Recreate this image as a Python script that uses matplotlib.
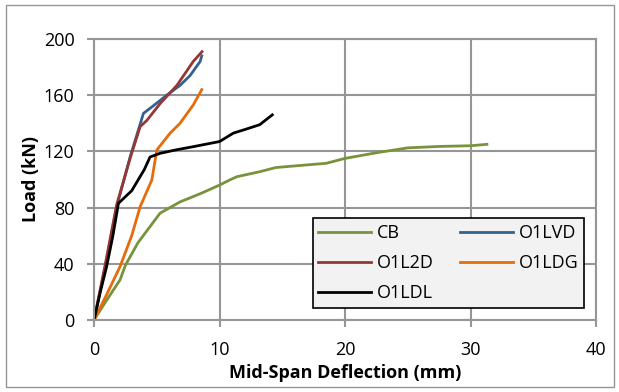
import matplotlib
matplotlib.use("Agg")
import matplotlib.pyplot as plt

plt.rcParams['font.family'] = ['Open Sans', 'DejaVu Sans']

# data (deflection mm, load kN)
cb_x = [0, 1.0, 2.07, 2.5, 3.5, 5.26, 6.85, 8.5, 10.0, 10.8, 11.4, 13.2, 14.5, 16.5, 18.5, 20.0, 22.5, 25.0, 27.5, 30.0, 31.3]
cb_y = [0, 14, 28.5, 39, 55, 76, 84, 90, 96, 99.6, 102, 105.5, 108.5, 110, 111.5, 115, 119, 122.5, 123.5, 124, 125]

lvd_x = [0, 0.9, 1.8, 2.87, 3.93, 4.8, 5.79, 6.85, 7.65, 8.45, 8.58]
lvd_y = [0, 38, 80.6, 116, 147, 153, 160, 167, 174, 184, 188]

l2d_x = [0, 0.9, 1.8, 2.87, 3.67, 4.2, 5.26, 6.6, 7.9, 8.6]
l2d_y = [0, 40, 82, 115, 137.6, 142, 154, 167, 184, 191]

ldg_x = [0, 1.0, 2.07, 3.0, 3.67, 4.6, 5.0, 6.06, 6.85, 7.9, 8.58]
ldg_y = [0, 18, 38, 60, 80.6, 99.6, 121, 133, 140, 153, 164]

ldl_x = [0, 0.5, 1.0, 1.5, 1.94, 3.0, 4.0, 4.46, 5.26, 6.5, 8.0, 10.0, 11.1, 12.0, 13.2, 14.2]
ldl_y = [0, 20, 38, 60, 83, 92, 107, 116, 118.6, 121, 123.5, 127, 133, 135.5, 139, 146]

fig = plt.figure(figsize=(6.19, 3.92), dpi=100)
ax = fig.add_axes([0.152, 0.184, 0.811, 0.7165])

l_cb, = ax.plot(cb_x, cb_y, color='#77933C', lw=2, label='CB')
l_lvd, = ax.plot(lvd_x, lvd_y, color='#376092', lw=2, label='O1LVD')
l_l2d, = ax.plot(l2d_x, l2d_y, color='#953735', lw=2, label='O1L2D')
l_ldg, = ax.plot(ldg_x, ldg_y, color='#E46C0A', lw=2, label='O1LDG')
l_ldl, = ax.plot(ldl_x, ldl_y, color='black', lw=2, label='O1LDL')

ax.set_xlim(0, 40)
ax.set_ylim(0, 200)
ax.set_xticks([0, 10, 20, 30, 40])
ax.set_yticks([0, 40, 80, 120, 160, 200])
ax.grid(True, color='#969696', lw=1.5)
ax.set_axisbelow(True)
for s in ax.spines.values():
    s.set_color('#969696')
    s.set_linewidth(1.5)
ax.tick_params(length=5, width=1.5, color='#969696', labelsize=13)
ax.tick_params(axis='x', pad=10)
ax.tick_params(axis='y', pad=9)

ax.set_xlabel('Mid-Span Deflection (mm)', fontsize=13, fontweight='bold', labelpad=4)
ax.set_ylabel('Load (kN)', fontsize=13, fontweight='bold', labelpad=3)

# row-major order like the original
handles = [l_cb, l_l2d, l_ldl, l_lvd, l_ldg]
leg = ax.legend(handles=handles, labels=[h.get_label() for h in handles], ncol=2,
                loc='lower left', bbox_to_anchor=(0.436, 0.043, 0.54, 0.327),
                mode='expand', fontsize=13, fancybox=False, framealpha=1,
                handlelength=2.9, handletextpad=0.35, borderaxespad=0,
                columnspacing=1.0, labelspacing=0.68, borderpad=0.3)
leg.get_frame().set_facecolor('#F2F2F2')
leg.get_frame().set_edgecolor('black')
leg.get_frame().set_linewidth(1.2)

fig.patches.append(plt.Rectangle((0.009, 0.013), 0.983, 0.975, transform=fig.transFigure,
                                 fill=False, edgecolor='#969696', lw=1))

fig.savefig('out.png', dpi=100)
